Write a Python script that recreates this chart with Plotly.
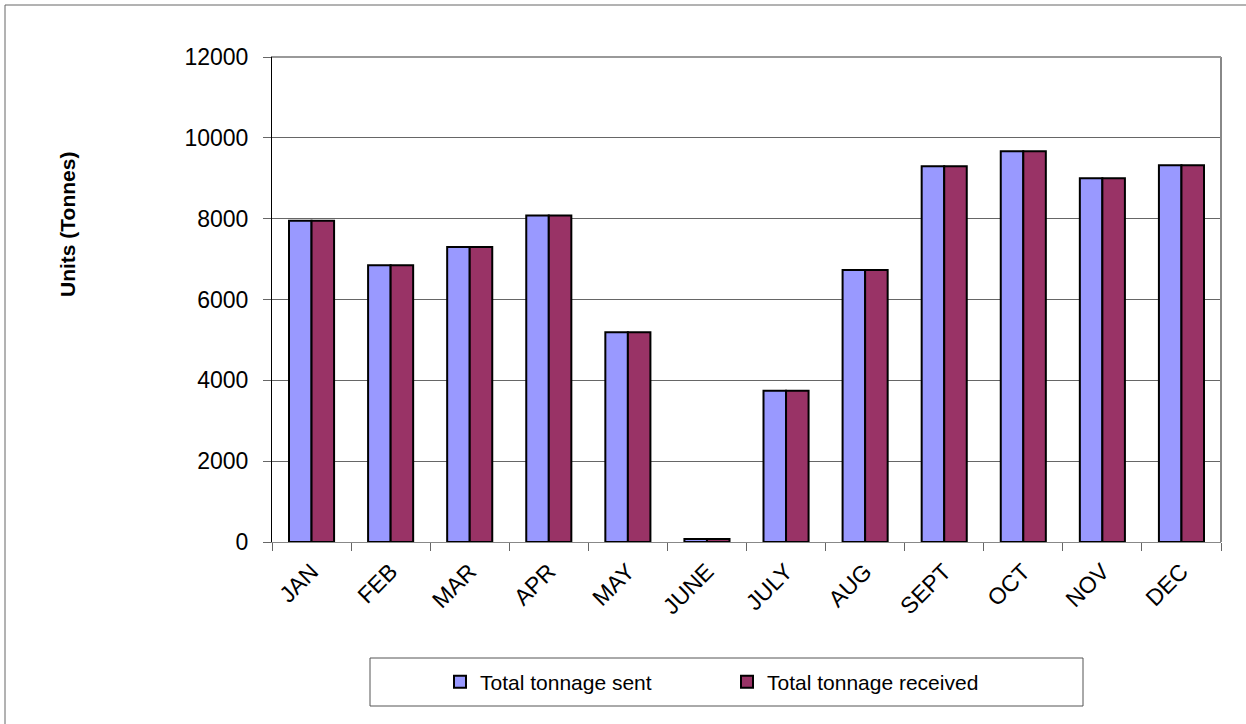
import plotly.graph_objects as go

months = ["JAN", "FEB", "MAR", "APR", "MAY", "JUNE", "JULY", "AUG", "SEPT", "OCT", "NOV", "DEC"]
sent = [7950, 6850, 7300, 8080, 5190, 75, 3740, 6730, 9300, 9670, 9000, 9320]
received = [7950, 6850, 7300, 8080, 5190, 75, 3740, 6730, 9300, 9670, 9000, 9320]
y_ticks = [0, 2000, 4000, 6000, 8000, 10000, 12000]
y_tick_text = ["0", "2000", "4000", "6000", "8000", "10000", "12000"]

W, H = 1246, 724
L, R, T, B = 272, 25, 57, 182
PW, PH = W - L - R, H - T - B

def px(x):
    return (x - L) / PW

def py(y):
    return 1 - (y - T) / PH

FONT = "Liberation Sans, Arial, sans-serif"

fig = go.Figure()
fig.add_trace(go.Bar(x=months, y=sent, name="Total tonnage sent",
                     marker=dict(color="#9999FF", line=dict(color="black", width=2))))
fig.add_trace(go.Bar(x=months, y=received, name="Total tonnage received",
                     marker=dict(color="#993366", line=dict(color="black", width=2))))

fig.update_layout(
    width=W, height=H,
    margin=dict(l=L, r=R, t=T, b=B, autoexpand=False),
    paper_bgcolor="white", plot_bgcolor="white",
    barmode="group", bargap=0.43, bargroupgap=0,
    font=dict(family=FONT, color="black", size=20),
    showlegend=True,
    legend=dict(orientation="h", x=px(440), xanchor="left", y=py(682), yanchor="middle",
                font=dict(family=FONT, size=21), entrywidth=242, entrywidthmode="pixels",
                bgcolor="rgba(0,0,0,0)", borderwidth=0, traceorder="normal"),
    xaxis=dict(type="category", showline=True, linecolor="#888888", linewidth=1, mirror=True,
               ticks="outside", ticklen=8, tickcolor="#666666", tickson="boundaries",
               tickangle=-45, tickfont=dict(family=FONT, size=23), showgrid=False,
               ticklabelstandoff=6),
    yaxis=dict(range=[0, 12000], tickvals=y_ticks, ticktext=y_tick_text, ticks="outside", ticklen=8,
               tickcolor="#666666", showline=True, linecolor="black", linewidth=1,
               showgrid=True, gridcolor="#666666", gridwidth=1, zeroline=False,
               tickfont=dict(family=FONT, size=23), ticklabelstandoff=10),
    shapes=[
        dict(type="rect", xref="paper", yref="paper", x0=px(5), x1=px(1260), y0=py(5), y1=py(740),
             line=dict(color="#666666", width=1), layer="below"),
        dict(type="line", xref="paper", yref="paper", x0=1, x1=1, y0=0, y1=1,
             line=dict(color="#888888", width=2)),
        dict(type="line", xref="paper", yref="paper", x0=0, x1=1, y0=1, y1=1,
             line=dict(color="#999999", width=2)),
        dict(type="rect", xref="paper", yref="paper", x0=px(370), x1=px(1083), y0=py(658), y1=py(706),
             line=dict(color="#555555", width=1)),
    ],
    annotations=[
        dict(text="<b>Units (Tonnes)</b>", xref="paper", yref="paper", x=px(67), y=py(225),
             textangle=-90, showarrow=False, font=dict(family=FONT, size=21, color="black"),
             xanchor="center", yanchor="middle"),
    ],
)

fig.write_html("out.html")
